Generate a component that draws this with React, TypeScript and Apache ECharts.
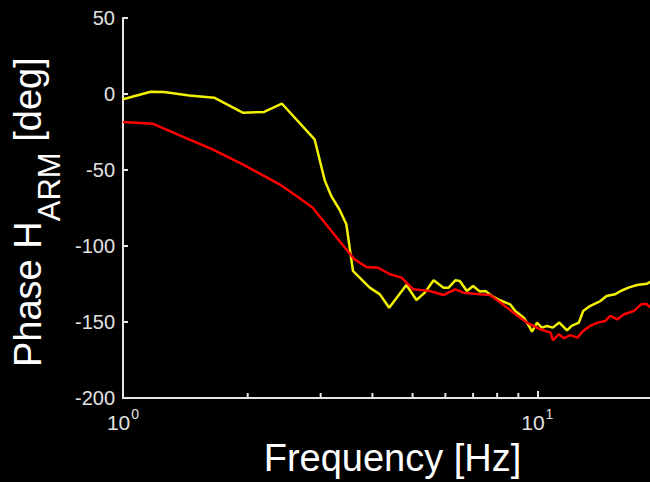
import React, { useEffect, useRef } from "react";
import * as echarts from "echarts";

const yellowFreq = [1.0, 1.08, 1.167, 1.256, 1.445, 1.66, 1.945, 2.19, 2.42, 2.9, 3.07, 3.18, 3.33, 3.46, 3.59, 3.69, 3.94, 4.17, 4.39, 4.83, 5.11, 5.35, 5.62, 5.94, 6.11, 6.34, 6.5, 6.76, 7.0, 7.27, 7.5, 7.77, 8.13, 8.6, 8.85, 9.28, 9.6, 9.71, 9.98, 10.26, 10.55, 10.9, 11.3, 11.8, 12.1, 12.6, 12.9, 13.4, 14.2, 14.7, 15.4, 15.9, 16.6, 17.4, 18.4, 18.8, 20];
const yellowPhase = [-3.5, -1, 1.5, 1.3, -1, -2.4, -12.3, -11.8, -6.4, -29.8, -57, -67, -76, -85.7, -116.4, -119.7, -127.4, -131.8, -140.6, -125.7, -135.5, -130.7, -122.6, -127.4, -127.4, -122.6, -123, -129.6, -126.3, -130, -129.6, -132.9, -135.7, -138.4, -142.8, -147.2, -153.7, -156.4, -150.5, -153.7, -152.6, -153.7, -150.4, -155.5, -152.6, -150.4, -142.8, -139.5, -136.2, -132.9, -131.8, -129.6, -127.4, -125.7, -124.8, -123.5, -122];

const redFreq = [1.0, 1.1, 1.178, 1.366, 1.645, 1.945, 2.387, 2.67, 2.87, 3.09, 3.33, 3.62, 3.87, 4.13, 4.41, 4.7, 5.02, 5.5, 5.94, 6.34, 6.63, 7.27, 7.69, 8.13, 8.76, 9.44, 10.17, 10.77, 10.9, 11.27, 11.6, 12.0, 12.5, 12.9, 13.4, 14.0, 14.6, 15.0, 15.6, 16.2, 17.1, 17.8, 18.3, 18.8, 20];
const redPhase = [-18.4, -19, -19.5, -27, -36.4, -46.3, -59.4, -68.6, -74.8, -85.7, -96.7, -108.8, -113.8, -114.3, -118.6, -120.8, -128.5, -129.6, -132.2, -128.5, -130.7, -131.8, -132.2, -137, -143.9, -150.4, -154.8, -157, -162, -158.1, -160.7, -158.6, -160.3, -155.9, -152.6, -150.4, -149.3, -146, -148.2, -144.9, -142.8, -138.4, -138, -140.6, -139];

const minorTickValues = [2, 3, 4, 5, 6, 7, 8, 9];
const xMin = 1;
const xMax = 20;
const yMin = -200;
const yMax = 50;
const yStep = 50;

const FONT = "'Liberation Sans', Arial, sans-serif";
const AXIS_COLOR = "#e6e6e6";
const LABEL_COLOR = "#e2e2e2";

function measure(text: string, size: number): number {
  const c = document.createElement("canvas").getContext("2d");
  if (!c) return text.length * size * 0.55;
  c.font = `${size}px ${FONT}`;
  return c.measureText(text).width;
}

export default function App() {
  const ref = useRef<HTMLDivElement>(null);
  useEffect(() => {
    if (!ref.current) return;
    const chart = echarts.init(ref.current, undefined, { renderer: "svg" });
    const mainSize = 38;
    const subSize = 31;
    const t1 = "Phase H";
    const t2 = "ARM";
    const t3 = " [deg]";
    const w1 = measure(t1, mainSize);
    const w2 = measure(t2, subSize);
    chart.setOption({
      animation: false,
      backgroundColor: "#000000",
      grid: { left: 123, right: -12, top: 18, bottom: 84, containLabel: false, outerBoundsMode: "none" },
      xAxis: {
        type: "log",
        logBase: 10,
        min: xMin,
        max: xMax,
        name: "Frequency [Hz]",
        nameLocation: "middle",
        nameGap: 41,
        nameTextStyle: { color: "#ffffff", fontSize: 38, fontFamily: FONT },
        axisLine: { show: true, onZero: false, lineStyle: { color: AXIS_COLOR, width: 2 } },
        axisTick: { show: true, inside: true, length: 7, lineStyle: { color: AXIS_COLOR, width: 2 } },
        splitLine: { show: false },
        axisLabel: {
          color: LABEL_COLOR,
          fontFamily: FONT,
          fontSize: 21,
          margin: 6,
          showMaxLabel: false,
          formatter: (v: number) => {
            const e = Math.log10(v);
            if (Math.abs(e - Math.round(e)) > 1e-6) return "";
            return `{b|10}{s|${Math.round(e)}}`;
          },
          rich: {
            b: { fontSize: 21, fontFamily: FONT, color: LABEL_COLOR, padding: [8, 0, 0, 0] },
            s: { fontSize: 14, fontFamily: FONT, color: LABEL_COLOR, padding: [0, 0, 10, 1] },
          },
        },
      },
      yAxis: {
        type: "value",
        min: yMin,
        max: yMax,
        interval: yStep,
        axisLine: { show: true, onZero: false, lineStyle: { color: AXIS_COLOR, width: 2 } },
        axisTick: { show: true, inside: true, length: 5, lineStyle: { color: AXIS_COLOR, width: 2 } },
        splitLine: { show: false },
        axisLabel: { color: LABEL_COLOR, fontFamily: FONT, fontSize: 20, margin: 8 },
      },
      graphic: [
        {
          type: "group",
          x: 28,
          y: 367,
          rotation: Math.PI / 2,
          children: [
            {
              type: "text",
              x: 0,
              y: 0,
              style: { text: t1, fill: "#ffffff", fontSize: mainSize, fontFamily: FONT, textAlign: "left", textVerticalAlign: "middle" },
            },
            {
              type: "text",
              x: w1,
              y: 21,
              style: { text: t2, fill: "#ffffff", fontSize: subSize, fontFamily: FONT, textAlign: "left", textVerticalAlign: "middle" },
            },
            {
              type: "text",
              x: w1 + w2,
              y: 0,
              style: { text: t3, fill: "#ffffff", fontSize: mainSize, fontFamily: FONT, textAlign: "left", textVerticalAlign: "middle" },
            },
          ],
        },
      ],
      series: [
        {
          type: "line",
          data: yellowFreq.map((f, i) => [f, yellowPhase[i]]),
          showSymbol: false,
          lineStyle: { color: "#f2f200", width: 2.5 },
          itemStyle: { color: "#f2f200" },
          z: 3,
        },
        {
          type: "line",
          data: redFreq.map((f, i) => [f, redPhase[i]]),
          showSymbol: false,
          lineStyle: { color: "#ff0000", width: 2.5 },
          itemStyle: { color: "#ff0000" },
          z: 4,
        },
        {
          type: "custom",
          data: minorTickValues.map((v) => [v, yMin]),
          clip: false,
          renderItem: (_params: any, api: any) => {
            const p = api.coord([api.value(0), api.value(1)]);
            return {
              type: "line",
              shape: { x1: p[0], y1: p[1], x2: p[0], y2: p[1] - 5 },
              style: { stroke: AXIS_COLOR, lineWidth: 2 },
            };
          },
          silent: true,
          z: 10,
        },
      ],
    });
    return () => chart.dispose();
  }, []);
  return (
    <div
      ref={ref}
      style={{ position: "fixed", left: 0, top: 0, width: 650, height: 482, background: "#000" }}
    />
  );
}
